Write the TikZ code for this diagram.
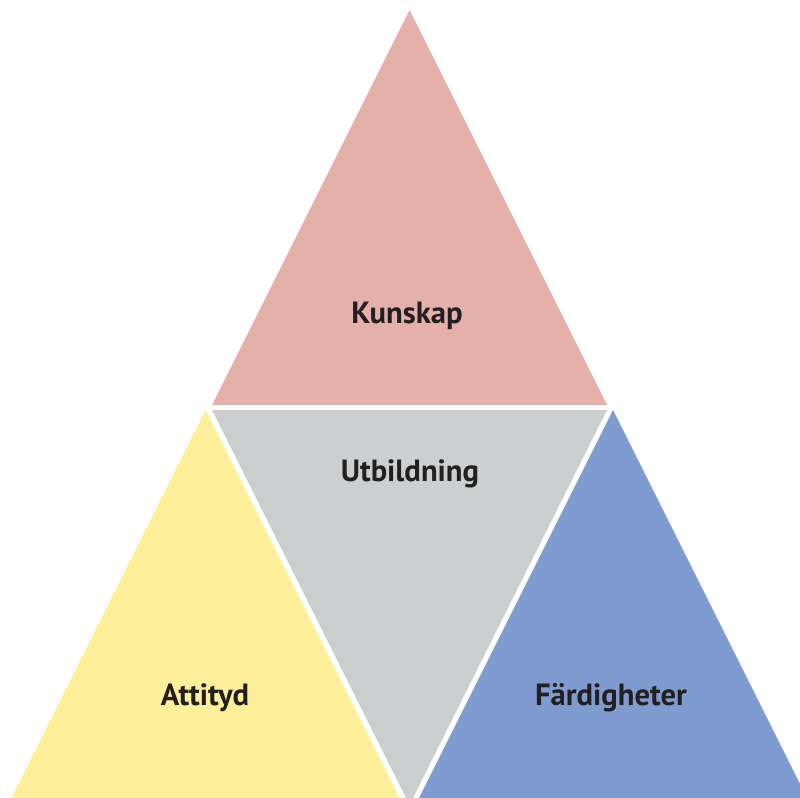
\documentclass[tikz,border=0pt]{standalone}
\usepackage{fontspec}
\setmainfont{PT Sans}
\usetikzlibrary{positioning}

\definecolor{kunskapfill}{HTML}{E6B0AA}
\definecolor{utbildningfill}{HTML}{CBCFD0}
\definecolor{attitydfill}{HTML}{FEF09A}
\definecolor{fardighetfill}{HTML}{7F9CD1}
\definecolor{labeltext}{HTML}{231F20}

\begin{document}
\begin{tikzpicture}[x=0.75pt,y=-0.75pt]

    \tikzset
    {
        font={\fontsize{23pt}{27pt}\selectfont\bfseries},
        label/.style={text=labeltext, inner sep=0pt}
    }

    \useasboundingbox (0,0) rectangle (800,798);
    \clip (0,0) rectangle (800,798);

    \pgfmathsetmacro{\half}{197.5}
    \pgfmathsetmacro{\high}{395}

    \fill[kunskapfill] (409.5,10) -- ++(-\half,\high) -- ++(2*\half,0) -- cycle;
    \fill[utbildningfill] (212,410) -- ++(2*\half,0) -- ++(-\half,\high) -- cycle;
    \fill[attitydfill] (205.5,410) -- ++(-\half,\high) -- ++(2*\half,0) -- cycle;
    \fill[fardighetfill] (613,410) -- ++(-\half,\high) -- ++(2*\half,0) -- cycle;

    \node[label] (kunskap) at (407,316) {Kunskap};
    \node[label] (utbildning) at (410,474) {Utbildning};
    \node[label] (attityd) at (205,698) {Attityd};
    \node[label] (fardigheter) at (611,698) {Färdigheter};

\end{tikzpicture}
\end{document}
